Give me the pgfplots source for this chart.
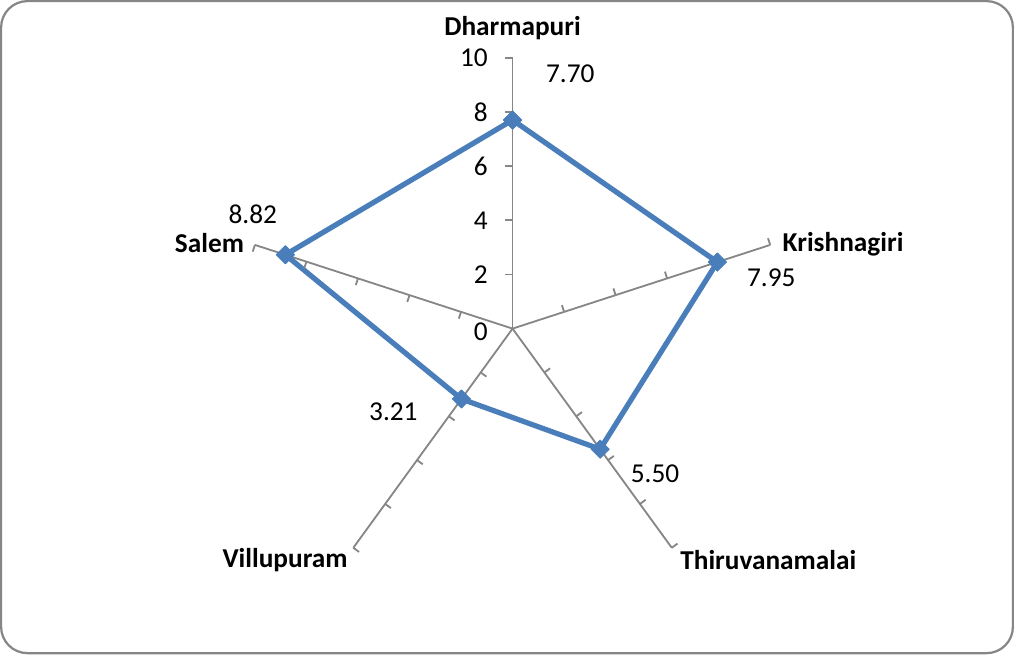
\documentclass[border=0pt]{standalone}
\usepackage{pgfplots}
\pgfplotsset{compat=1.18}
\usepackage{fontspec}
\setmainfont{Carlito}
\definecolor{spoke}{HTML}{868686}
\definecolor{series}{HTML}{4A7EBB}
\pgfdeclareplotmark{radtick}{\pgfpathmoveto{\pgfpointorigin}\pgfpathlineto{\pgfpoint{0pt}{\pgfplotmarksize}}\pgfusepathqstroke}
\begin{document}
\fontsize{13.5bp}{16bp}\selectfont
\begin{tikzpicture}
\begin{axis}[
  x=13.4bp, y=13.4bp,
  hide axis, clip=false,
  xmin=-19.22, xmax=18.62, ymin=-12.09, ymax=12.20,
]
% frame
\draw[spoke, line width=1.1bp, rounded corners=13bp] (axis cs:-18.88,-11.98) rectangle (axis cs:18.47,12.09);
% spokes
\addplot[spoke, line width=0.9bp, data cs=polar] coordinates {(90,0) (90,10)};
\addplot[spoke, line width=0.9bp, data cs=polar] coordinates {(18,0) (18,10)};
\addplot[spoke, line width=0.9bp, data cs=polar] coordinates {(-54,0) (-54,10)};
\addplot[spoke, line width=0.9bp, data cs=polar] coordinates {(-126,0) (-126,10)};
\addplot[spoke, line width=0.9bp, data cs=polar] coordinates {(162,0) (162,10)};
% ticks
\addplot[spoke, line width=0.9bp, only marks, mark=radtick, mark size=3.5bp, data cs=polar, every mark/.append style={rotate=90}] coordinates {(90,2)(90,4)(90,6)(90,8)(90,10)};
\addplot[spoke, line width=0.9bp, only marks, mark=radtick, mark size=3.5bp, data cs=polar, every mark/.append style={rotate=18}] coordinates {(18,2)(18,4)(18,6)(18,8)(18,10)};
\addplot[spoke, line width=0.9bp, only marks, mark=radtick, mark size=3.5bp, data cs=polar, every mark/.append style={rotate=-54}] coordinates {(-54,2)(-54,4)(-54,6)(-54,8)(-54,10)};
\addplot[spoke, line width=0.9bp, only marks, mark=radtick, mark size=3.5bp, data cs=polar, every mark/.append style={rotate=-126}] coordinates {(-126,2)(-126,4)(-126,6)(-126,8)(-126,10)};
\addplot[spoke, line width=0.9bp, only marks, mark=radtick, mark size=3.5bp, data cs=polar, every mark/.append style={rotate=162}] coordinates {(162,2)(162,4)(162,6)(162,8)(162,10)};
% data series
\addplot[series, line width=2.6bp, line join=round, mark=square*, mark size=3.2bp, mark options={fill=series, line width=0.4bp, rotate=45}, data cs=polar]
  coordinates {(90,7.70) (18,7.95) (-54,5.50) (-126,3.21) (162,8.82) (90,7.70)};
% value axis labels
\node[anchor=east, inner sep=0pt] at (axis cs:-0.9,10) {10};
\node[anchor=east, inner sep=0pt] at (axis cs:-0.9,8) {8};
\node[anchor=east, inner sep=0pt] at (axis cs:-0.9,6) {6};
\node[anchor=east, inner sep=0pt] at (axis cs:-0.9,4) {4};
\node[anchor=east, inner sep=0pt] at (axis cs:-0.9,2) {2};
\node[anchor=east, inner sep=0pt] at (axis cs:-0.9,-0.1) {0};
% value labels
\node at (axis cs:2.13,9.40) {7.70};
\node at (axis cs:9.55,1.87) {7.95};
\node at (axis cs:5.26,-5.34) {5.50};
\node at (axis cs:-4.40,-3.06) {3.21};
\node at (axis cs:-9.59,4.22) {8.82};
% category labels
\node[font=\bfseries] at (axis cs:0,11.08) {Dharmapuri};
\node[font=\bfseries] at (axis cs:12.20,3.13) {Krishnagiri};
\node[font=\bfseries] at (axis cs:9.44,-8.55) {Thiruvanamalai};
\node[font=\bfseries] at (axis cs:-8.40,-8.55) {Villupuram};
\node[font=\bfseries] at (axis cs:-11.19,3.17) {Salem};
\end{axis}
\end{tikzpicture}
\end{document}
